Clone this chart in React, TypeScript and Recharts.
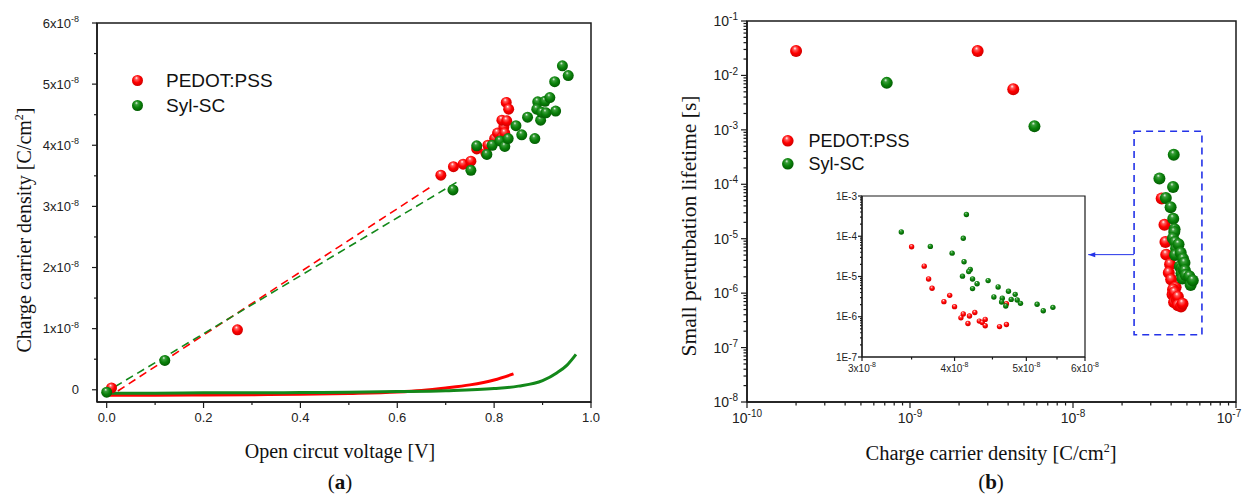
import React from "react";
import {
  ComposedChart,
  Line,
  Scatter,
  XAxis,
  YAxis,
  ReferenceArea,
  ReferenceLine,
  ReferenceDot,
  Legend,
  Label,
} from "recharts";

const SANS = "'Liberation Sans', Arial, sans-serif";
const SERIF = "'Liberation Serif', 'Times New Roman', serif";
const AXIS = "#1a1a1a";
const RED = "#ff0000";
const GREEN = "#13881a";
const BLUE = "#2433e8";

// ---------- (a) charge carrier density vs open circuit voltage ----------
const pedotVoc = [0.01, 0.27, 0.69, 0.716, 0.736, 0.752, 0.764, 0.783, 0.787, 0.801, 0.807, 0.817, 0.82, 0.822, 0.816, 0.826, 0.825, 0.83];
const pedotCharge = [0.03e-8, 0.98e-8, 3.51e-8, 3.65e-8, 3.69e-8, 3.74e-8, 3.94e-8, 3.87e-8, 4.0e-8, 4.11e-8, 4.2e-8, 4.14e-8, 4.3e-8, 4.2e-8, 4.41e-8, 4.4e-8, 4.7e-8, 4.59e-8];

const sylVoc = [0.0, 0.12, 0.715, 0.752, 0.764, 0.785, 0.796, 0.812, 0.822, 0.829, 0.845, 0.857, 0.869, 0.884, 0.896, 0.89, 0.888, 0.898, 0.905, 0.915, 0.907, 0.927, 0.925, 0.941, 0.953];
const sylCharge = [-0.04e-8, 0.48e-8, 3.27e-8, 3.59e-8, 3.99e-8, 3.85e-8, 4.0e-8, 4.07e-8, 3.98e-8, 4.11e-8, 4.32e-8, 4.17e-8, 4.46e-8, 4.11e-8, 4.41e-8, 4.71e-8, 4.59e-8, 4.54e-8, 4.72e-8, 4.78e-8, 4.53e-8, 4.56e-8, 5.04e-8, 5.3e-8, 5.14e-8];

// linear fits (dashed)
const pedotFitVoc = [0.023, 0.675];
const pedotFitCharge = [-0.02e-8, 3.35e-8];
const sylFitVoc = [0.017, 0.73];
const sylFitCharge = [0.05e-8, 3.43e-8];

// capacitive curves (solid)
const pedotCurveVoc = [0, 0.1, 0.2, 0.3, 0.4, 0.5, 0.6, 0.65, 0.7, 0.75, 0.8, 0.84];
const pedotCurveCharge = [-0.09e-8, -0.09e-8, -0.085e-8, -0.08e-8, -0.075e-8, -0.06e-8, -0.035e-8, -0.01e-8, 0.03e-8, 0.08e-8, 0.16e-8, 0.26e-8];
const sylCurveVoc = [0, 0.1, 0.2, 0.3, 0.4, 0.5, 0.6, 0.7, 0.8, 0.85, 0.9, 0.93, 0.95, 0.969];
const sylCurveCharge = [-0.055e-8, -0.055e-8, -0.05e-8, -0.05e-8, -0.045e-8, -0.04e-8, -0.03e-8, -0.015e-8, 0.02e-8, 0.06e-8, 0.15e-8, 0.28e-8, 0.4e-8, 0.58e-8];

const vocMajor = [0, 0.2, 0.4, 0.6, 0.8, 1.0];
const vocMinor = [0.1, 0.3, 0.5, 0.7, 0.9];
const chargeMajor = [0, 1e-8, 2e-8, 3e-8, 4e-8, 5e-8, 6e-8];
const chargeMinor = [0.5e-8, 1.5e-8, 2.5e-8, 3.5e-8, 4.5e-8, 5.5e-8];

// ---------- (b) lifetime vs charge carrier density ----------
const pedotFarDensity = [2.0e-10, 2.6e-9, 4.3e-9];
const pedotFarLifetime = [2.8e-2, 2.8e-2, 5.6e-3];
const sylFarDensity = [7.2e-10, 5.8e-9];
const sylFarLifetime = [7.3e-3, 1.17e-3];

const pedotDensity = [3.5e-8, 3.64e-8, 3.69e-8, 3.73e-8, 3.94e-8, 3.87e-8, 4.0e-8, 4.26e-8, 4.11e-8, 4.08e-8, 4.19e-8, 4.17e-8, 4.32e-8, 4.36e-8, 4.4e-8, 4.4e-8, 4.6e-8, 4.7e-8, 4.7e-8];
const pedotLifetime = [5.5e-5, 1.81e-5, 8.7e-6, 5.1e-6, 3.4e-6, 2.37e-6, 1.78e-6, 1.28e-6, 1.17e-6, 9.4e-7, 1.04e-6, 6.8e-7, 7.8e-7, 7.2e-7, 8.6e-7, 6.0e-7, 5.7e-7, 6.4e-7, 2.1e-6];

const sylDensity = [3.39e-8, 3.71e-8, 4.15e-8, 4.11e-8, 3.97e-8, 4.12e-8, 4.2e-8, 4.18e-8, 4.1e-8, 4.23e-8, 4.29e-8, 4.23e-8, 4.44e-8, 4.58e-8, 4.52e-8, 4.64e-8, 4.63e-8, 4.69e-8, 4.73e-8, 4.77e-8, 4.83e-8, 4.86e-8, 4.91e-8, 5.17e-8, 5.27e-8, 5.43e-8];
const sylLifetime = [1.28e-4, 5.6e-5, 3.48e-4, 8.9e-5, 3.8e-5, 2.33e-5, 1.5e-5, 1.33e-5, 1.02e-5, 8.7e-6, 6.6e-6, 5.0e-6, 7.9e-6, 5.5e-6, 3.1e-6, 2.9e-6, 2.33e-6, 1.85e-6, 4.3e-6, 2.7e-6, 3.6e-6, 2.6e-6, 2.15e-6, 2.04e-6, 1.41e-6, 1.71e-6];

// zoom box drawn round the cluster, and the arrow to the inset
const zoomBoxDensity = [2.37e-8, 6.18e-8];
const zoomBoxLifetime = [1.72e-7, 9.4e-4];
const arrowDensity = [2.37e-8, 1.24e-8];
const arrowLifetime = 5.1e-6;

const decadesX = [1e-10, 1e-9, 1e-8, 1e-7];
const decadesY = [1e-8, 1e-7, 1e-6, 1e-5, 1e-4, 1e-3, 1e-2, 1e-1];
const insetMajorX = [3e-8, 4e-8, 5e-8, 6e-8];
const insetMinorX = [3.5e-8, 4.5e-8, 5.5e-8];
const insetDecadesY = [1e-7, 1e-6, 1e-5, 1e-4, 1e-3];

const legendNames = ["PEDOT:PSS", "Syl-SC"];

const toPts = (xs: number[], ys: number[]) => xs.map((x, i) => ({ x, y: ys[i] }));

const logMinors = (decades: number[]) => {
  const out: number[] = [];
  decades.slice(0, -1).forEach((d) => {
    for (let k = 2; k <= 9; k++) out.push(d * k);
  });
  return out;
};

const near = (a: number, b: number) =>
  Math.abs(a - b) <= Math.max(Math.abs(a), Math.abs(b)) * 1e-6;

type TickSpec = {
  side: "bottom" | "left";
  major: number[];
  majorLen: number;
  minorLen: number;
  fontSize: number;
  gap: number;
  fmt: (v: number) => [string, string?];
  dx?: (v: number) => number;
};

function AxisTick(props: any) {
  const { x, y, payload, spec } = props as { x: number; y: number; payload: any; spec: TickSpec };
  const v = payload.value as number;
  const isMajor = spec.major.some((m) => near(m, v));
  const len = isMajor ? spec.majorLen : spec.minorLen;
  const [base, sup] = spec.fmt(v);
  const supSize = Math.round(spec.fontSize * 0.68);
  const rise = spec.fontSize * 0.42;
  const shift = spec.dx ? spec.dx(v) : 0;
  const txt = (tx: number, ty: number, anchor: string) => (
    <text x={tx + shift} y={ty} textAnchor={anchor} fontFamily={SANS} fontSize={spec.fontSize} fill="#222">
      <tspan>{base}</tspan>
      {sup ? (
        <tspan dy={-rise} fontSize={supSize}>
          {sup}
        </tspan>
      ) : null}
    </text>
  );
  if (spec.side === "bottom") {
    return (
      <g>
        <line x1={x} y1={y} x2={x} y2={y + len} stroke={AXIS} strokeWidth={1.2} />
        {isMajor ? txt(x, y + spec.majorLen + spec.gap + spec.fontSize * 0.75, "middle") : null}
      </g>
    );
  }
  return (
    <g>
      <line x1={x - len} y1={y} x2={x} y2={y} stroke={AXIS} strokeWidth={1.2} />
      {isMajor ? txt(x - spec.majorLen - spec.gap, y + spec.fontSize * 0.36, "end") : null}
    </g>
  );
}

function BallDefs({ id }: { id: string }) {
  return (
    <defs>
      <radialGradient id={`${id}-red`} cx="0.46" cy="0.44" r="0.62" fx="0.4" fy="0.26">
        <stop offset="0" stopColor="#ffffff" />
        <stop offset="0.22" stopColor="#ff5a5a" />
        <stop offset="0.55" stopColor="#ff0000" />
        <stop offset="1" stopColor="#c40000" />
      </radialGradient>
      <radialGradient id={`${id}-green`} cx="0.46" cy="0.44" r="0.62" fx="0.4" fy="0.26">
        <stop offset="0" stopColor="#e8f5e8" />
        <stop offset="0.22" stopColor="#3c9e3c" />
        <stop offset="0.55" stopColor="#0b820b" />
        <stop offset="1" stopColor="#005500" />
      </radialGradient>
    </defs>
  );
}

const ball = (fill: string, r: number) => (p: any) =>
  <circle cx={p.cx} cy={p.cy} r={r} fill={fill} />;

function LegendBox({ id, r, fontSize, row, gap }: { id: string; r: number; fontSize: number; row: number; gap: number }) {
  const fills = [`url(#${id}-red)`, `url(#${id}-green)`];
  return (
    <div>
      {legendNames.map((name, i) => (
        <div key={name} style={{ display: "flex", alignItems: "center", height: row }}>
          <svg width={2 * r + 2} height={2 * r + 2} style={{ display: "block" }}>
            <circle cx={r + 1} cy={r + 1} r={r} fill={fills[i]} />
          </svg>
          <span style={{ marginLeft: gap, fontFamily: SANS, fontSize, color: "#111", lineHeight: 1 }}>{name}</span>
        </div>
      ))}
    </div>
  );
}

// ---------- chart (a) ----------
function ChartA() {
  const xSpec: TickSpec = {
    side: "bottom", major: vocMajor, majorLen: 6, minorLen: 3, fontSize: 13, gap: 4,
    fmt: (v) => [v.toFixed(1)],
  };
  const ySpec: TickSpec = {
    side: "left", major: chargeMajor, majorLen: 5, minorLen: 3, fontSize: 13, gap: 13,
    fmt: (v) => {
      const k = Math.round(v / 1e-8);
      return k === 0 ? ["0"] : [`${k}x10`, "-8"];
    },
  };
  return (
    <ComposedChart width={620} height={494} margin={{ top: 23, right: 29, bottom: 0, left: 0 }}>
      <BallDefs id="a" />
      <XAxis
        type="number" dataKey="x" domain={[-0.02, 1]} allowDataOverflow
        ticks={[...vocMajor, ...vocMinor]} interval={0} tickSize={0} tickMargin={0} tickLine={false}
        tick={(p: any) => <AxisTick {...p} spec={xSpec} />}
        height={92} axisLine={{ stroke: AXIS, strokeWidth: 1.5 }}
        label={
          <Label
            content={() => (
              <g>
                <text x={340} y={458} textAnchor="middle" fontFamily={SERIF} fontSize={20} fill="#111">
                  Open circut voltage [V]
                </text>
                <text x={340} y={489} textAnchor="middle" fontFamily={SERIF} fontSize={21} fill="#111">
                  (<tspan fontWeight="bold">a</tspan>)
                </text>
              </g>
            )}
          />
        }
      />
      <YAxis
        type="number" dataKey="y" domain={[-0.2e-8, 6e-8]} allowDataOverflow
        ticks={[...chargeMajor, ...chargeMinor]} interval={0} tickSize={0} tickMargin={0} tickLine={false}
        tick={(p: any) => <AxisTick {...p} spec={ySpec} />}
        width={97} axisLine={{ stroke: AXIS, strokeWidth: 1.5 }}
        label={
          <Label
            content={() => (
              <text transform="rotate(-90 31 230)" x={31} y={230} textAnchor="middle" fontFamily={SERIF} fontSize={20} fill="#111">
                Charge carrier density [C/cm<tspan dy={-8} fontSize={12}>2</tspan>
                <tspan dy={8}>]</tspan>
              </text>
            )}
          />
        }
      />
      <ReferenceArea x1={-0.02} x2={1} y1={-0.2e-8} y2={6e-8} fill="none" stroke={AXIS} strokeWidth={1.5} />
      <Line data={toPts(pedotFitVoc, pedotFitCharge)} dataKey="y" stroke={RED} strokeWidth={1.6} strokeDasharray="8 5" dot={false} activeDot={false} isAnimationActive={false} />
      <Line data={toPts(sylFitVoc, sylFitCharge)} dataKey="y" stroke={GREEN} strokeWidth={1.6} strokeDasharray="8 5" dot={false} activeDot={false} isAnimationActive={false} />
      <Line data={toPts(pedotCurveVoc, pedotCurveCharge)} dataKey="y" type="monotone" stroke={RED} strokeWidth={3} dot={false} activeDot={false} isAnimationActive={false} />
      <Line data={toPts(sylCurveVoc, sylCurveCharge)} dataKey="y" type="monotone" stroke={GREEN} strokeWidth={3} dot={false} activeDot={false} isAnimationActive={false} />
      <Scatter data={toPts(pedotVoc, pedotCharge)} shape={ball("url(#a-red)", 5.5)} isAnimationActive={false} />
      <Scatter data={toPts(sylVoc, sylCharge)} shape={ball("url(#a-green)", 5.5)} isAnimationActive={false} />
      <Legend
        layout="vertical" align="center" verticalAlign="middle"
        wrapperStyle={{ left: 131, top: 68, width: "auto" }}
        content={() => <LegendBox id="a" r={5.5} fontSize={19} row={25} gap={22} />}
      />
    </ComposedChart>
  );
}

// ---------- chart (b) ----------
function ChartB() {
  const xSpec: TickSpec = {
    side: "bottom", major: decadesX, majorLen: 6, minorLen: 3.5, fontSize: 14, gap: 4,
    fmt: (v) => ["10", `${Math.round(Math.log10(v))}`],
    dx: (v) => (near(v, 1e-7) ? -7 : 0),
  };
  const ySpec: TickSpec = {
    side: "left", major: decadesY, majorLen: 6, minorLen: 3.5, fontSize: 14, gap: 3,
    fmt: (v) => ["10", `${Math.round(Math.log10(v))}`],
  };
  return (
    <ComposedChart width={624} height={494} margin={{ top: 21, right: 8, bottom: 0, left: 0 }}>
      <BallDefs id="b" />
      <XAxis
        type="number" dataKey="x" scale="log" domain={[1e-10, 1e-7]} allowDataOverflow
        ticks={[...decadesX, ...logMinors(decadesX)]} interval={0} tickSize={0} tickMargin={0} tickLine={false}
        tick={(p: any) => <AxisTick {...p} spec={xSpec} />}
        height={92} axisLine={{ stroke: AXIS, strokeWidth: 1.5 }}
        label={
          <Label
            content={() => (
              <g>
                <text x={371} y={460} textAnchor="middle" fontFamily={SERIF} fontSize={20.5} fill="#111">
                  Charge carrier density [C/cm<tspan dy={-8} fontSize={12}>2</tspan>
                  <tspan dy={8}>]</tspan>
                </text>
                <text x={371} y={489} textAnchor="middle" fontFamily={SERIF} fontSize={21} fill="#111">
                  (<tspan fontWeight="bold">b</tspan>)
                </text>
              </g>
            )}
          />
        }
      />
      <YAxis
        type="number" dataKey="y" scale="log" domain={[1e-8, 1e-1]} allowDataOverflow
        ticks={[...decadesY, ...logMinors(decadesY)]} interval={0} tickSize={0} tickMargin={0} tickLine={false}
        tick={(p: any) => <AxisTick {...p} spec={ySpec} />}
        width={127} axisLine={{ stroke: AXIS, strokeWidth: 1.5 }}
        label={
          <Label
            content={() => (
              <text transform="rotate(-90 76 226)" x={76} y={226} textAnchor="middle" fontFamily={SERIF} fontSize={21.5} fill="#111">
                Small perturbation lifetime [s]
              </text>
            )}
          />
        }
      />
      <ReferenceArea x1={1e-10} x2={1e-7} y1={1e-8} y2={1e-1} fill="none" stroke={AXIS} strokeWidth={1.5} />
      <ReferenceArea
        x1={zoomBoxDensity[0]} x2={zoomBoxDensity[1]} y1={zoomBoxLifetime[0]} y2={zoomBoxLifetime[1]}
        fill="none" stroke={BLUE} strokeWidth={1.6} strokeDasharray="7 5"
      />
      <ReferenceLine
        segment={[{ x: arrowDensity[0], y: arrowLifetime }, { x: arrowDensity[1], y: arrowLifetime }]}
        stroke={BLUE} strokeWidth={1}
      />
      <ReferenceDot
        x={arrowDensity[1]} y={arrowLifetime}
        shape={(p: any) => (
          <polygon points={`${p.cx},${p.cy} ${p.cx + 7},${p.cy - 2.5} ${p.cx + 7},${p.cy + 2.5}`} fill={BLUE} />
        )}
      />
      <Scatter
        data={[...toPts(pedotFarDensity, pedotFarLifetime), ...toPts(pedotDensity, pedotLifetime)]}
        shape={ball("url(#b-red)", 6)} isAnimationActive={false}
      />
      <Scatter
        data={[...toPts(sylFarDensity, sylFarLifetime), ...toPts(sylDensity, sylLifetime)]}
        shape={ball("url(#b-green)", 6)} isAnimationActive={false}
      />
      <Legend
        layout="vertical" align="center" verticalAlign="middle"
        wrapperStyle={{ left: 161, top: 129, width: "auto" }}
        content={() => <LegendBox id="b" r={5.8} fontSize={18} row={23} gap={14} />}
      />
    </ComposedChart>
  );
}

// ---------- inset of (b) ----------
function Inset() {
  const xSpec: TickSpec = {
    side: "bottom", major: insetMajorX, majorLen: 4, minorLen: 2.5, fontSize: 10, gap: 3,
    fmt: (v) => [`${Math.round(v / 1e-8)}x10`, "-8"],
  };
  const ySpec: TickSpec = {
    side: "left", major: insetDecadesY, majorLen: 4, minorLen: 2, fontSize: 10, gap: 1,
    fmt: (v) => [`1E${Math.round(Math.log10(v))}`],
  };
  return (
    <ComposedChart width={320} height={191} margin={{ top: 6, right: 35, bottom: 0, left: 0 }}>
      <BallDefs id="c" />
      <XAxis
        type="number" dataKey="x" scale="log" domain={[3e-8, 6e-8]} allowDataOverflow
        ticks={[...insetMajorX, ...insetMinorX]} interval={0} tickSize={0} tickMargin={0} tickLine={false}
        tick={(p: any) => <AxisTick {...p} spec={xSpec} />}
        height={24} axisLine={{ stroke: AXIS, strokeWidth: 1.2 }}
      />
      <YAxis
        type="number" dataKey="y" scale="log" domain={[1e-7, 1e-3]} allowDataOverflow
        ticks={[...insetDecadesY, ...logMinors(insetDecadesY)]} interval={0} tickSize={0} tickMargin={0} tickLine={false}
        tick={(p: any) => <AxisTick {...p} spec={ySpec} />}
        width={62} axisLine={{ stroke: AXIS, strokeWidth: 1.2 }}
      />
      <ReferenceArea x1={3e-8} x2={6e-8} y1={1e-7} y2={1e-3} fill="none" stroke={AXIS} strokeWidth={1.2} />
      <Scatter data={toPts(pedotDensity, pedotLifetime)} shape={ball("url(#c-red)", 2.7)} isAnimationActive={false} />
      <Scatter data={toPts(sylDensity, sylLifetime)} shape={ball("url(#c-green)", 2.7)} isAnimationActive={false} />
    </ComposedChart>
  );
}

export default function App() {
  return (
    <div style={{ position: "absolute", left: 0, top: 0, width: 1244, height: 494, background: "#fff", overflow: "hidden" }}>
      <div style={{ position: "absolute", left: 0, top: 0 }}>
        <ChartA />
      </div>
      <div style={{ position: "absolute", left: 620, top: 0 }}>
        <ChartB />
      </div>
      <div style={{ position: "absolute", left: 800, top: 190 }}>
        <Inset />
      </div>
    </div>
  );
}
